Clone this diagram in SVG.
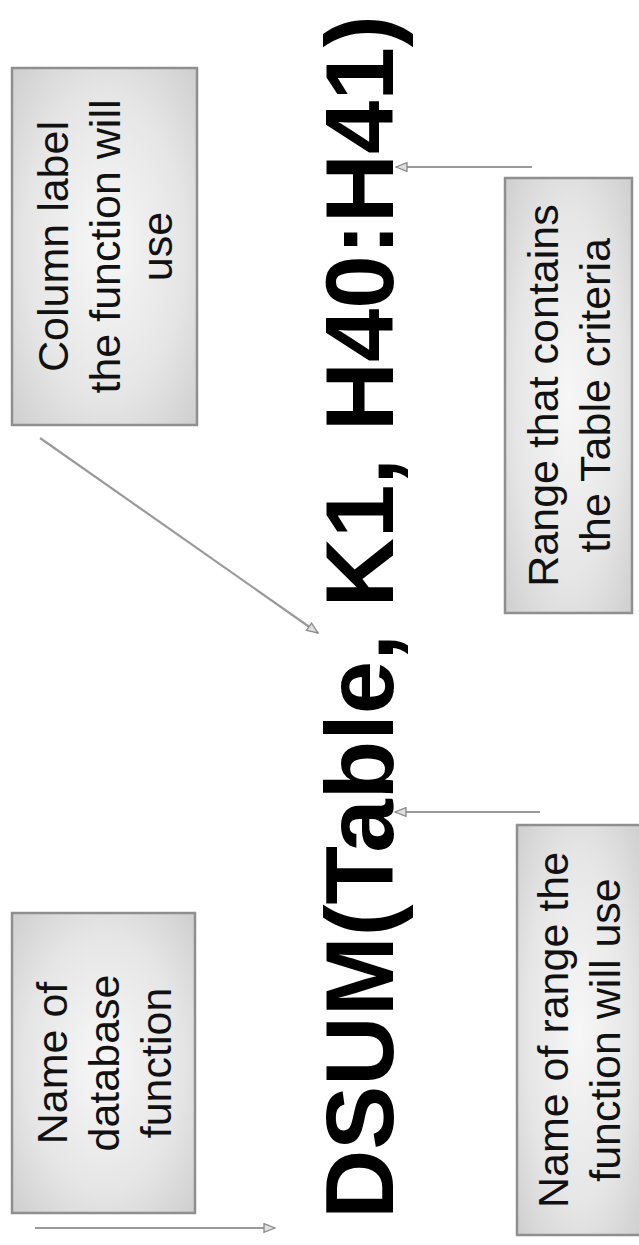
<svg xmlns="http://www.w3.org/2000/svg" width="639" height="1245" viewBox="0 0 639 1245">
<style>
.box{fill:url(#boxfill);stroke:#8f8f8f;stroke-width:2.5}
.lbl{font-family:"Liberation Sans",Arial,sans-serif;font-size:43px;fill:#111;text-anchor:middle}
.big{font-family:"Liberation Sans",Arial,sans-serif;font-size:96px;font-weight:bold;fill:#000}
.conn{stroke:#9a9a9a;stroke-width:2.2;fill:none;marker-end:url(#arr)}
</style>
<defs>
<radialGradient id="boxfill" cx="0.5" cy="0.5" r="0.7">
<stop offset="0" stop-color="#f7f7f7"/>
<stop offset="0.6" stop-color="#e6e6e6"/>
<stop offset="1" stop-color="#cfcfcf"/>
</radialGradient>
<marker id="arr" viewBox="0 0 12 10" refX="11" refY="5" markerWidth="6" markerHeight="5" orient="auto" markerUnits="strokeWidth">
<path d="M1,1 L11,5 L1,9 Z" fill="#e0e0e0" stroke="#8a8a8a" stroke-width="1.2"/>
</marker>
</defs>
<rect width="639" height="1245" fill="#fff"/>
<g id="formula">
<text class="big" transform="translate(393,1219) rotate(-90)">DSUM(Table, K1, H40:H41)</text>
</g>
<g id="node-database-function">
<rect class="box" x="12" y="913" width="183" height="300"/>
<g transform="translate(103.5,1063) rotate(-90)">
<text class="lbl" x="0" y="-37">Name of</text>
<text class="lbl" x="0" y="15">database</text>
<text class="lbl" x="0" y="67">function</text>
</g>
</g>
<g id="node-range-name">
<rect class="box" x="517" y="825" width="124" height="410"/>
<g transform="translate(579,1030) rotate(-90)">
<text class="lbl" x="0" y="-11">Name of range the</text>
<text class="lbl" x="0" y="41">function will use</text>
</g>
</g>
<g id="node-column-label">
<rect class="box" x="12" y="68" width="185" height="357"/>
<g transform="translate(104.5,246.5) rotate(-90)">
<text class="lbl" x="0" y="-37">Column label</text>
<text class="lbl" x="0" y="15">the function will</text>
<text class="lbl" x="0" y="67">use</text>
</g>
</g>
<g id="node-criteria-range">
<rect class="box" x="505" y="178" width="127" height="435"/>
<g transform="translate(568.5,395.5) rotate(-90)">
<text class="lbl" x="0" y="-11">Range that contains</text>
<text class="lbl" x="0" y="41">the Table criteria</text>
</g>
</g>
<g id="connectors">
<line class="conn" x1="35" y1="1228" x2="275" y2="1228"/>
<line class="conn" x1="540" y1="812" x2="395" y2="812"/>
<line class="conn" x1="40" y1="438" x2="318" y2="633"/>
<line class="conn" x1="532" y1="167" x2="396" y2="167"/>
</g>
</svg>
